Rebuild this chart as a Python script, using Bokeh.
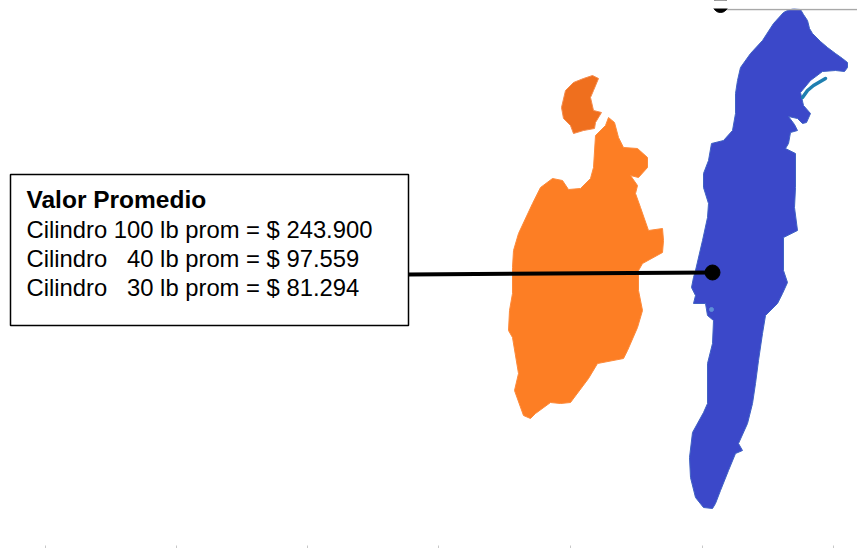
from bokeh.plotting import figure
from bokeh.models import Range1d
from bokeh.core.properties import value
from bokeh.embed import file_html
from bokeh.resources import INLINE

blue_x = [787,793,800,803,807,809,812,820,827,835,842,847,847,844,835,822,810,800,803,810,806,802,797,788,794,797,790,788,785,795,795,794,797,783,783,787,782,777,765,762,758,755,752,747,738,742,735,728,720,715,712,703,695,690,689,692,703,707,707,712,713,707,705,693,695,691,693,695,702,707,708,703,703,708,711,723,732,735,735,737,740,750,762,773,783]
blue_y = [10,8,9,14,20,28,33,41,47,53,58,62,67,71,70,71,80,92,105,113,122,123,118,116,124,130,132,143,148,153,187,207,230,237,270,282,293,303,315,333,360,383,403,423,443,450,453,470,490,503,508,507,497,477,457,432,412,403,363,343,320,315,303,303,295,287,277,270,240,217,203,187,173,160,143,140,130,113,93,80,67,53,40,23,12]
orange_x = [608,614,618,623,637,647,647,638,630,637,635,640,648,662,663,662,642,638,638,642,637,627,623,597,588,570,560,550,535,530,523,514,518,512,508,509,512,512,513,518,532,540,552,562,568,580,590,593,595,605]
orange_y = [117,122,137,147,148,157,167,177,175,185,193,207,230,228,240,252,263,270,290,310,327,350,358,363,378,402,403,402,413,418,415,390,373,337,330,310,293,267,250,233,203,187,178,180,189,188,178,167,135,125]
islet_x = [592,598,593,590,593,601,595,594,583,573,570,563,561,565,573,583]
islet_y = [75,78,90,97,110,112,122,128,130,133,125,118,107,90,82,78]
channel_x = [825,813,807,802]
channel_y = [78,85,90,97]
speck_x = [711]
speck_y = [309]
box_x = [10,408,408,10]
box_y = [174,174,325,325]
leader_x = [408,712]
leader_y = [274,272]
top_rule_x = [720,857]
top_rule_y = [9,9]
marker_x = [712,720]
marker_y = [272,4.5]
mask_x = [0,857,857,0]
mask_y = [0,0,8,8]
tick_x = [45,176,307,438,570,702,833]
label_lines = ["Cilindro 100 lb prom = $ 243.900","Cilindro \u00a0 40 lb prom = $ 97.559","Cilindro \u00a0 30 lb prom = $ 81.294"]
label_y = [228.5,257.5,286.5]
title_text = ["Valor Promedio"]
title_y = [198.5]

p = figure(width=857, height=548, output_backend="svg", toolbar_location=None,
           x_range=Range1d(0,857), y_range=Range1d(548,0), min_border=0,
           x_axis_location=None, y_axis_location=None, outline_line_color=None,
           background_fill_color="white", border_fill_color="white")
p.grid.visible = False

p.patch(blue_x, blue_y, fill_color="#3b48c9", line_color="#3f62c4", line_width=1)
p.line(channel_x, channel_y, line_color="#1f7fb0", line_width=3.5, line_cap="round")
p.scatter(speck_x, speck_y, size=4, color="#5d8fd8")
p.patch(orange_x, orange_y, fill_color="#fd7e24", line_color="#fd8a3a", line_width=1)
p.patch(islet_x, islet_y, fill_color="#ef6f1e", line_color="#f58a4a", line_width=1)
p.line(top_rule_x, top_rule_y, line_color="#a8a8a8", line_width=1.5)
p.line(leader_x, leader_y, line_color="black", line_width=4)
p.scatter(marker_x, marker_y, size=15, color="black")
p.patch(mask_x, mask_y, fill_color="white", line_color=None)
p.patch(box_x, box_y, fill_color="white", line_color="black", line_width=1.5)
p.text([26], title_y, text=title_text, text_font=value("Liberation Sans"), text_font_size="24.5px",
       text_font_style="bold", text_color="black", text_baseline="alphabetic")
p.text([26]*3, label_y, text=label_lines, text_font=value("Liberation Sans"), text_font_size="23.8px",
       text_color="black", text_baseline="alphabetic")
p.segment(tick_x, [545]*7, tick_x, [548]*7, line_color="#c8c8c8", line_width=1)

open("out.html", "w").write(file_html(p, INLINE))
